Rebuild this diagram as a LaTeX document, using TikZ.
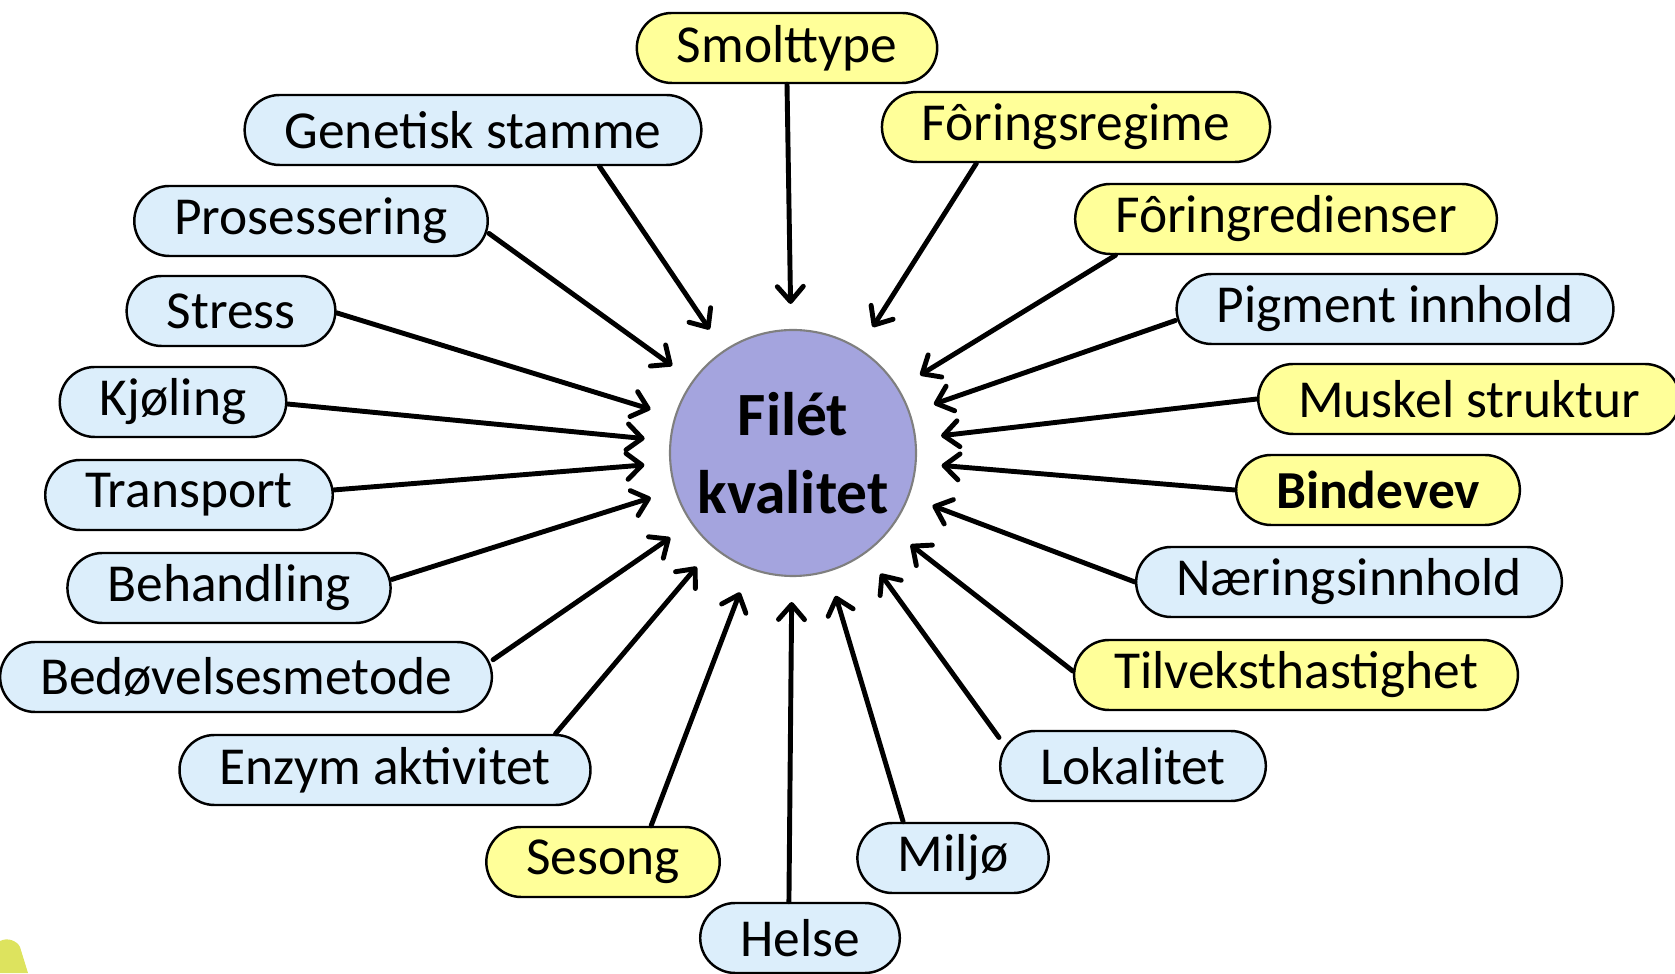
\documentclass[tikz,border=0pt]{standalone}
\usepackage{fontspec}
\setmainfont{Carlito}
\usetikzlibrary{arrows.meta}

\definecolor{factorblue}{HTML}{DCEEFB}
\definecolor{factoryellow}{HTML}{FFFF99}
\definecolor{core}{HTML}{A4A4DE}
\definecolor{coreline}{HTML}{7F7F7F}
\definecolor{leaf}{HTML}{DDE35E}

\begin{document}
\begin{tikzpicture}[
  line join=round, line cap=round,
  factor/.style={draw=black, line width=0.7pt, rounded corners=0.35cm,
    minimum height=0.7cm, inner xsep=0.4cm, inner ysep=0pt,
    font=\fontsize{15.2}{18}\selectfont},
  blue_/.style={factor, fill=factorblue},
  yellow_/.style={factor, fill=factoryellow},
  arrow/.style={line width=1.4pt, -{Straight Barb[round,length=1.5mm,width=2.6mm]},
    shorten >=0.25cm},
]

% ── the page, as large as the slide ───────────────────────────────────────
\useasboundingbox (0,0) rectangle (16.75,9.73);

% a scrap of the slide's leaf in the corner
\fill[leaf] (0,0) -- (0,0.32) .. controls (0.08,0.36) and (0.17,0.32) .. (0.2,0.26) -- (0.28,0) -- cycle;

% ── the quality in the middle ─────────────────────────────────────────────
\node[circle, fill=core, draw=coreline, line width=0.6pt, minimum size=2.46cm,
  inner sep=0pt, align=center, font=\fontsize{17.5}{22}\selectfont\bfseries]
  (kvalitet) at (7.93,5.20) {Filét\\kvalitet};

% ── the factors, left side from the top ───────────────────────────────────
\node[yellow_] (smolt) at (7.87,9.25) {Smolttype};
\node[blue_] (genetisk) at (4.73,8.43) {Genetisk stamme};
\node[blue_] (prosess) at (3.11,7.52) {Prosessering};
\node[blue_] (stress) at (2.31,6.62) {Stress};
\node[blue_] (kjoling) at (1.73,5.71) {Kjøling};
\node[blue_] (transport) at (1.89,4.78) {Transport};
\node[blue_] (behandling) at (2.29,3.85) {Behandling};
\node[blue_] (bedovelse) at (2.46,2.96) {Bedøvelsesmetode};
\node[blue_] (enzym) at (3.85,2.03) {Enzym aktivitet};
\node[yellow_] (sesong) at (6.03,1.11) {Sesong};
\node[blue_] (helse) at (8.00,0.35) {Helse};

% ── right side from the top ───────────────────────────────────────────────
\node[yellow_] (foring) at (10.76,8.46) {Fôringsregime};
\node[yellow_] (ingred) at (12.86,7.54) {Fôringredienser};
\node[blue_] (pigment) at (13.95,6.64) {Pigment innhold};
\node[yellow_] (muskel) at (14.69,5.74) {Muskel struktur};
\node[yellow_, font=\fontsize{15.2}{18}\selectfont\bfseries] (bindevev) at (13.78,4.83) {Bindevev};
\node[blue_] (naering) at (13.49,3.91) {Næringsinnhold};
\node[yellow_] (tilvekst) at (12.96,2.98) {Tilveksthastighet};
\node[blue_] (lokalitet) at (11.33,2.07) {Lokalitet};
\node[blue_] (miljo) at (9.53,1.15) {Miljø};

% ── every factor points in at the middle ──────────────────────────────────
\foreach \n/\a in {smolt/270, genetisk/-16, prosess/-4, stress/-1, kjoling/-1,
    transport/2, behandling/3, bedovelse/4, enzym/12, sesong/37, helse/107,
    foring/200, ingred/192, pigment/183, muskel/180, bindevev/180,
    naering/180, tilvekst/179, lokalitet/168, miljo/144}
  { \draw[arrow] (\n.\a) -- (kvalitet); }

\end{tikzpicture}
\end{document}
